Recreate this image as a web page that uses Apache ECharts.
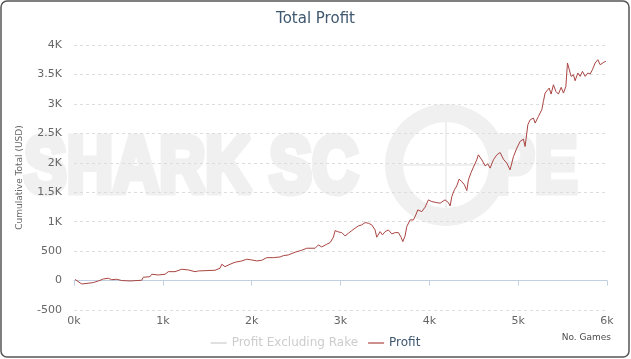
<!DOCTYPE html>
<html><head><meta charset="utf-8">
<script src="https://cdn.jsdelivr.net/npm/echarts@6/dist/echarts.min.js"></script>
<style>html,body{margin:0;padding:0;background:#fff}#c{width:631px;height:359px}</style>
</head><body><div id="c"></div>
<script>
const titleText = 'Total Profit';
const seriesNames = ['Profit Excluding Rake', 'Profit'];
const yTicks = [-500, 0, 500, 1000, 1500, 2000, 2500, 3000, 3500, 4000];
const xTicks = [0, 1000, 2000, 3000, 4000, 5000, 6000];
const games = [11,87,105,217,274,330,386,425,481,537,631,762,780,856,875,949,1025,1062,1137,1213,1287,1362,1400,1475,1588,1644,1663,1700,1757,1813,1888,1945,2001,2057,2114,2170,2244,2320,2357,2413,2488,2564,2620,2714,2751,2789,2845,2883,2920,2939,2976,3014,3051,3089,3127,3164,3201,3239,3277,3314,3352,3389,3408,3446,3472,3502,3539,3577,3615,3652,3682,3701,3727,3746,3783,3821,3848,3870,3915,3952,3990,4028,4084,4121,4177,4215,4234,4253,4282,4309,4335,4366,4395,4422,4440,4470,4496,4534,4552,4591,4628,4658,4684,4721,4760,4797,4834,4872,4909,4947,4985,5022,5059,5078,5109,5135,5172,5191,5228,5266,5284,5303,5323,5349,5371,5397,5424,5453,5484,5510,5537,5555,5577,5596,5622,5641,5672,5698,5724,5754,5784,5810,5836,5866,5897,5923,5942,5968,5987];
const profit = [20,-58,-58,-35,-7,27,39,15,22,0,-7,5,56,66,107,95,107,151,151,192,180,151,163,168,175,209,277,236,277,311,333,362,350,333,345,389,389,401,423,435,481,515,549,549,605,571,617,644,736,848,826,814,758,804,848,889,928,945,984,974,945,860,736,831,775,831,860,792,814,814,736,661,758,916,1030,1030,1115,1200,1171,1246,1370,1341,1324,1314,1370,1324,1268,1426,1540,1608,1722,1681,1625,1528,1710,1834,1925,2050,2135,2050,1948,1982,1909,2050,2135,2174,2061,1994,1880,2106,2249,2363,2402,2277,2646,2730,2759,2674,2787,2900,3041,3184,3212,3269,3167,3325,3212,3167,3280,3184,3297,3694,3665,3467,3495,3393,3524,3467,3552,3467,3524,3507,3580,3694,3750,3665,3637,3712,3722];
const profitExRake = [];

const chart = echarts.init(document.getElementById('c'), null, {renderer: 'canvas'});
const FONT = 'DejaVu Sans';
const wm = '#f0f0f0';
const wmStyle = t => ({text: t, fill: wm, stroke: wm, lineWidth: 7, fontSize: 80, fontWeight: 'bold', fontFamily: 'Liberation Sans'});
chart.setOption({
  animation: false,
  backgroundColor: '#fff',
  title: {
    text: titleText, left: 'center', top: 7,
    textStyle: {color: '#3E576F', fontSize: 15, fontWeight: 'normal', fontFamily: FONT}
  },
  graphic: [
    {type: 'rect', shape: {x: 1, y: 1, width: 628, height: 356, r: 6}, style: {fill: 'none', stroke: '#555', lineWidth: 1.5}, z: 100, silent: true},
    {type: 'text', x: 24, y: 130, z: 0, silent: true, scaleX: 0.8, style: wmStyle('SHARK SC')},
    {type: 'ring', shape: {cx: 446, cy: 165, r: 61, r0: 43}, style: {fill: wm}, z: 0, silent: true},
    {type: 'line', shape: {x1: 446, y1: 116, x2: 446, y2: 214}, style: {stroke: wm, lineWidth: 2}, z: 0, silent: true},
    {type: 'line', shape: {x1: 397, y1: 165, x2: 495, y2: 165}, style: {stroke: wm, lineWidth: 2}, z: 0, silent: true},
    {type: 'text', x: 492, y: 130, z: 0, silent: true, scaleX: 0.8, style: wmStyle('PE')},
    {type: 'text', right: 20, top: 333, style: {text: 'No. Games', fill: '#4d4d4d', fontSize: 9, fontFamily: FONT}}
  ],
  legend: {
    data: seriesNames, left: 'center', top: 332,
    selected: {'Profit Excluding Rake': false},
    icon: 'path://M0,0H16V1.2H0Z',
    itemWidth: 16, itemHeight: 1.2, itemGap: 10,
    inactiveColor: '#ccc',
    textStyle: {color: '#3E576F', fontSize: 12, fontFamily: FONT}
  },
  grid: {left: 74, right: 24, top: 45, bottom: 49},
  xAxis: {
    type: 'value', min: 0, max: 6000, interval: 1000,
    axisLine: {show: true, lineStyle: {color: '#C0D0E0'}},
    axisTick: {show: true, length: 5, lineStyle: {color: '#C0D0E0'}},
    axisLabel: {color: '#666', fontSize: 11, fontFamily: FONT, margin: 6, formatter: v => (v / 1000) + 'k'},
    splitLine: {show: false}
  },
  yAxis: {
    type: 'value', min: -500, max: 4000, interval: 500,
    name: 'Cumulative Total (USD)', nameLocation: 'middle', nameGap: 50,
    nameTextStyle: {color: '#666', fontSize: 9, fontFamily: FONT},
    axisLine: {show: false}, axisTick: {show: false},
    axisLabel: {color: '#666', fontSize: 11, fontFamily: FONT, margin: 12,
      formatter: v => Math.abs(v) >= 1000 ? (v / 1000) + 'K' : String(v)},
    splitLine: {show: true, lineStyle: {color: '#ddd', type: [3, 3], width: 1}}
  },
  series: [
    {name: seriesNames[0], type: 'line', data: profitExRake, symbol: 'none', color: '#4572A7', lineStyle: {width: 1}},
    {name: seriesNames[1], type: 'line', data: games.map((g, i) => [g, profit[i]]), symbol: 'none', color: '#AA4643', lineStyle: {width: 1}, z: 5}
  ]
});
</script></body></html>
